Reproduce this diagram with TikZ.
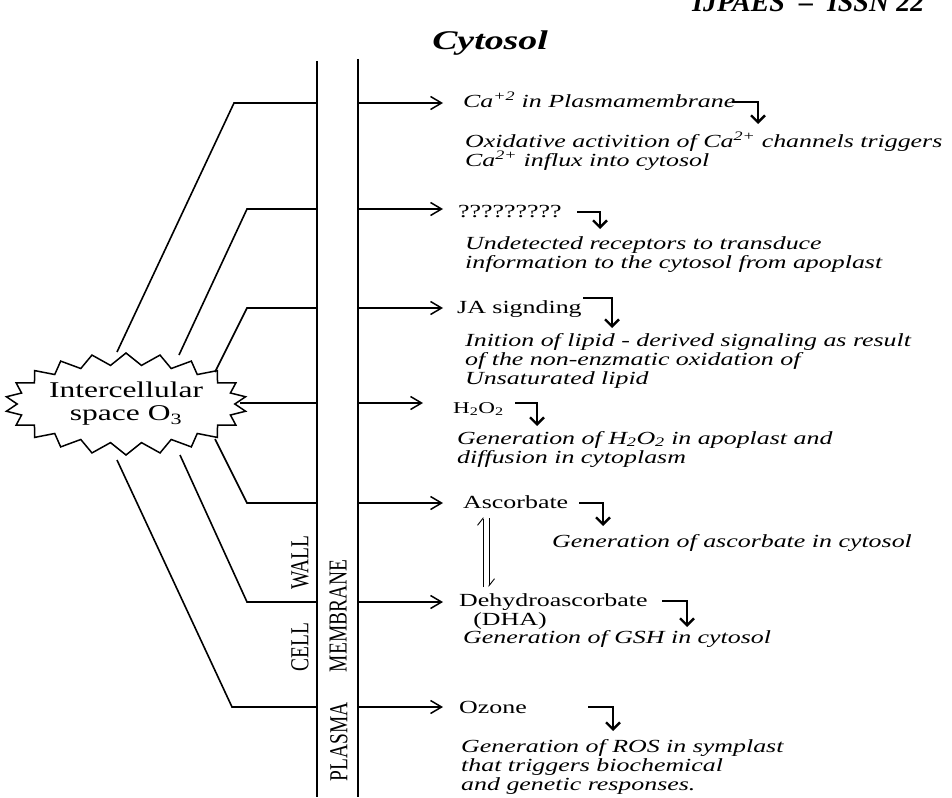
\documentclass[tikz,border=0pt]{standalone}
\usepackage{fontspec}
\setmainfont{Liberation Serif}[FakeStretch=1.4]
\newfontfamily\plainserif{Liberation Serif}[Ligatures=TeX]
\usetikzlibrary{arrows.meta,shapes.symbols}
\begin{document}
\begin{tikzpicture}[x=1pt,y=-1pt,
  wallline/.style={line width=1.8pt},
  conn/.style={line width=1.6pt, line join=miter},
  inarrow/.style={line width=1.5pt,-{Straight Barb[length=11pt,width=13pt]}},
  bent/.style={line width=2.4pt,-{Straight Barb[length=7pt,width=14pt]}},
  lbl/.style={anchor=base west, inner sep=0pt, font=\fontsize{18.5}{20}\selectfont},
  desc/.style={anchor=base west, inner sep=0pt, align=left, font=\itshape\fontsize{18.5}{19}\selectfont},
  vlab/.style={rotate=90, inner sep=0pt, font=\plainserif\fontsize{18.5}{20}\selectfont},
  harp/.style={line width=0.9pt,-{Straight Barb[left,length=7pt,width=11pt]}}
]
\fill[white] (0,0) rectangle (952,797);
\useasboundingbox (0,0) rectangle (952,797);

% header (cropped at the top and right, as in the source)
\begin{scope}
\clip (0,0) rectangle (952,797);
\node[anchor=base west, inner sep=0pt, font=\plainserif\bfseries\itshape\fontsize{28}{28}\selectfont] (hdr) at (692,12) {IJPAES\ \ –\ \ ISSN 22};
\end{scope}
\node[anchor=base, inner sep=0pt, font=\bfseries\itshape\fontsize{27}{27}\selectfont] (cyt) at (490,50) {Cytosol};

% walls
\coordinate (wLtop) at (317,61); \coordinate (wLbot) at (317,797);
\coordinate (wRtop) at (358,59); \coordinate (wRbot) at (358,797);
\draw[wallline] (wLtop) -- (wLbot);
\draw[wallline] (wRtop) -- (wRbot);

\node[vlab] (wall) at (300,563) {\scalebox{1.05}[1.4]{WALL}};
\node[vlab] (cell) at (300,647) {\scalebox{1.05}[1.4]{CELL}};
\node[vlab] (memb) at (338,616) {\scalebox{1.05}[1.4]{MEMBRANE}};
\node[vlab] (plas) at (339,742) {\scalebox{1.05}[1.4]{PLASMA}};

% starburst
\node[draw, shape=starburst, starburst points=22, starburst point height=12pt,
      random starburst=0, line width=1.5pt, minimum width=230pt, minimum height=102pt,
      inner sep=0pt, align=center, font=\fontsize{22.5}{23}\selectfont] (o3) at (126,404)
      {Intercellular\\space O\textsubscript{3}};

% rows
\foreach \i/\y in {1/103,2/209,3/308,4/403,5/503,6/602,7/707}{
  \coordinate (wL\i) at (317,\y);
  \coordinate (wR\i) at (358,\y);
}
\coordinate (t1) at (443,103);
\coordinate (t2) at (443,209);
\coordinate (t3) at (443,308);
\coordinate (t4) at (423,403);
\coordinate (t5) at (443,503);
\coordinate (t6) at (443,602);
\coordinate (t7) at (443,707);

% connectors from the starburst to the cell wall
\coordinate (s1) at (117,352); \coordinate (c1) at (234,103);
\coordinate (s2) at (179,355); \coordinate (c2) at (247,209);
\coordinate (s3) at (215,372); \coordinate (c3) at (247,308);
\coordinate (s4) at (240,403);
\coordinate (s5) at (215,439); \coordinate (c5) at (247,503);
\coordinate (s6) at (180,455); \coordinate (c6) at (247,602);
\coordinate (s7) at (117,460); \coordinate (c7) at (232,707);
\draw[conn] (s1) -- (c1) -- (wL1);
\draw[conn] (s2) -- (c2) -- (wL2);
\draw[conn] (s3) -- (c3) -- (wL3);
\draw[conn] (s4) -- (wL4);
\draw[conn] (s5) -- (c5) -- (wL5);
\draw[conn] (s6) -- (c6) -- (wL6);
\draw[conn] (s7) -- (c7) -- (wL7);

% arrows into the cytosol
\foreach \i in {1,...,7}{ \draw[inarrow] (wR\i) -- (t\i); }

% labels
\node[lbl, font=\itshape\fontsize{18.5}{20}\selectfont] (ca) at (463,107) {Ca\textsuperscript{+2} in Plasmamembrane};
\node[lbl] (qq) at (458,217) {?????????};
\node[lbl] (ja) at (457,313) {JA signding};
\node[lbl, font=\fontsize{16.5}{18}\selectfont] (h2o2) at (453,413) {H\textsubscript{2}O\textsubscript{2}};
\node[lbl] (asc) at (463,508) {Ascorbate};
\node[lbl] (dha) at (459,606) {Dehydroascorbate};
\node[anchor=base, inner sep=0pt, font=\fontsize{18.5}{20}\selectfont] (dhab) at (510,625) {(DHA)};
\node[lbl] (oz) at (459,713) {Ozone};

% descriptions (a multi-line node's base is its last line)
\node[desc] (d1) at (465,166) {Oxidative activition of Ca\textsuperscript{2+} channels triggers\\Ca\textsuperscript{2+} influx into cytosol};
\node[desc] (d2) at (465,268) {Undetected receptors to transduce\\information to the cytosol from apoplast};
\node[desc] (d3) at (465,384) {Inition of lipid - derived signaling as result\\of the non-enzmatic oxidation of\\Unsaturated lipid};
\node[desc] (d4) at (457,463) {Generation of H\textsubscript{2}O\textsubscript{2} in apoplast and\\diffusion in cytoplasm};
\node[desc] (d5) at (552,547) {Generation of ascorbate in cytosol};
\node[desc] (d6) at (463,643) {Generation of GSH in cytosol};
\node[desc] (d7) at (461,790) {Generation of ROS in symplast\\that triggers biochemical\\and genetic responses.};

% bent arrows
\coordinate (b1) at (732,102); \coordinate (e1) at (758,102); \coordinate (f1) at (758,124);
\coordinate (b2) at (577,212); \coordinate (e2) at (600,212); \coordinate (f2) at (600,229);
\coordinate (b3) at (583,298); \coordinate (e3) at (612,298); \coordinate (f3) at (612,328);
\coordinate (b4) at (515,403); \coordinate (e4) at (537,403); \coordinate (f4) at (537,426);
\coordinate (b5) at (579,503); \coordinate (e5) at (603,503); \coordinate (f5) at (603,526);
\coordinate (b6) at (662,601); \coordinate (e6) at (687,601); \coordinate (f6) at (687,627);
\coordinate (b7) at (588,707); \coordinate (e7) at (613,707); \coordinate (f7) at (613,731);
\foreach \i in {1,...,7}{ \draw[bent] (b\i) -- (e\i) -- (f\i); }

% equilibrium between ascorbate and dehydroascorbate
\coordinate (h1a) at (483,587); \coordinate (h1b) at (483,517);
\coordinate (h2a) at (489,518); \coordinate (h2b) at (489,587);
\draw[harp] (h1a) -- (h1b);
\draw[harp] (h2a) -- (h2b);
\end{tikzpicture}
\end{document}
